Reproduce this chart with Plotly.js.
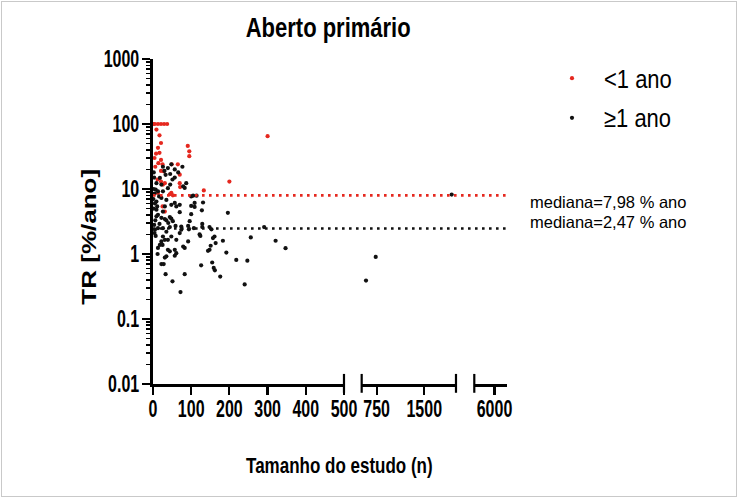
<!DOCTYPE html>
<html>
<head>
<meta charset="utf-8">
<script src="https://cdn.plot.ly/plotly-3.0.1.min.js"></script>
<style>
  body { margin: 0; background: #fff; }
  #wrap { position: relative; width: 740px; height: 502px; }
  #chart { width: 740px; height: 502px; }
  #frame { position: absolute; left: 1px; top: 1px; width: 734px; height: 494px;
           border: 1.5px solid #c9c9c9; pointer-events: none; }
  /* the reference text is drawn tall and narrow: stretch it vertically */
  #chart g.xtick, #chart g.x2tick, #chart g.x3tick, #chart g.ytick {
    transform-box: fill-box; transform-origin: center; transform: scaleY(1.5);
  }
  #chart g.g-gtitle { transform-box: fill-box; transform-origin: center; transform: scaleY(1.25); }
  #chart g.annotation[data-index="0"] { transform-box: fill-box; transform-origin: center; transform: scaleY(1.3); }
  #chart g.annotation[data-index="1"] { transform-box: fill-box; transform-origin: center; transform: scaleY(1.35); }
  #chart text.legendtext { transform-box: fill-box; transform-origin: center; transform: scaleY(1.15); }
</style>
</head>
<body>
<div id="wrap"><div id="chart"></div><div id="frame"></div></div>
<script>
// --- data ---
const seriesNames = ['<1 ano', '≥1 ano'];

const redX = [1, 5, 13, 21, 29, 37, 300, 9, 17, 21, 91, 95, 95, 8, 17, 13, 21, 14, 25, 21,
              12, 21, 49, 65, 70, 70, 71, 133, 200, 48, 44, 52, 25, 31, 6, 28, 26, 31, 4, 13];
const redY = [100, 100, 100, 100, 100, 100, 65, 82, 67, 51, 46, 38, 32, 35, 36, 43, 28, 25, 24, 19,
              14, 13, 24, 24, 16.6, 12.3, 10.7, 9.5, 13, 8.7, 8.3, 8.0, 5.4, 4.5, 22, 18.7, 11.7, 12.3, 30, 8.7];

const blackX = [26, 30, 48, 57, 77, 66, 87, 83, 105, 114, 39, 45, 33, 57, 18, 9, 22, 45, 51, 79,
                7, 13, 26, 39, 16, 22, 35, 57, 61, 48, 100, 109, 131, 9, 11, 9, 13, 31, 26, 70,
                100, 128, 44, 31, 100, 109, 196, 70, 22, 35, 48, 40, 52, 5, 13, 26, 44, 59, 35, 74,
                74, 70, 92, 94, 107, 122, 96, 129, 129, 148, 153, 291, 4, 124, 26, 22, 31, 18, 25, 13,
                39, 61, 57, 83, 79, 92, 39, 44, 61, 57, 35, 31, 148, 22, 28, 126, 33, 83, 51, 72,
                161, 157, 183, 256, 321, 347, 151, 164, 144, 192, 218, 247, 155, 159, 162, 176, 240, 48, 2, 3,
                2, 4, 1, 5, 2, 6, 3, 7, 12, 582, 735, 1932, 17, 9];
const blackY = [22, 19, 24, 20, 22, 18, 12.3, 10.4, 7.9, 7.9, 21, 17, 16.5, 15, 14.8, 12.3, 11.7, 11.7, 14, 11,
                9.8, 9.2, 9.2, 10.3, 7.7, 7.3, 6.8, 6.1, 5.4, 5.7, 7.7, 6.1, 6.2, 6.4, 5.4, 4.8, 4.0, 5.4, 4.5, 4.4,
                4.1, 4.7, 3.7, 3.45, 5.5, 5.3, 4.3, 5.7, 3.6, 3.3, 3.5, 3.0, 3.2, 2.36, 2.5, 2.5, 2.6, 2.7, 2.2, 2.65,
                2.36, 2.1, 2.7, 2.4, 2.5, 2.0, 3.2, 2.9, 2.6, 2.6, 2.4, 2.6, 2.1, 1.9, 1.86, 1.56, 1.65, 1.38, 1.38, 1.24,
                1.65, 1.65, 1.16, 1.24, 1.3, 1.56, 1.16, 1.1, 1.03, 0.94, 0.92, 0.88, 1.16, 0.70, 0.70, 0.67, 0.49, 0.49, 0.38, 0.26,
                1.86, 1.76, 1.6, 1.8, 1.6, 1.23, 1.34, 1.47, 1.12, 1.05, 0.81, 0.79, 0.74, 0.61, 0.56, 0.45, 0.34, 1.86, 18, 15,
                10, 8.5, 7, 6, 5, 3.3, 2.8, 1.9, 1.0, 0.39, 0.9, 8.2, 2.9, 3.8];

const medians = [7.98, 2.47];
const medianLabels = ['mediana=7,98 % ano', 'mediana=2,47 % ano'];

const seg1Ticks = [0, 100, 200, 300, 400, 500];
const seg2Ticks = [750, 1500];
const seg3Ticks = [6000];
const yTickVals = [0.01, 0.1, 1, 10, 100, 1000];
const yTickText = ['0.01', '0.1', '1', '10', '100', '1000'];

// --- broken x axis setup ---
const segRanges = [[0, 500], [514, 2000], [5000, 6620]];
const segDomains = [[0, 0.5395], [0.5895, 0.8559], [0.9076, 1]];
const segTicks = [seg1Ticks, seg2Ticks, seg3Ticks];
const axisIds = ['x', 'x2', 'x3'];

const RED = '#e5281f';
const BLACK = '#111111';
const sans = 'Liberation Sans, Arial, sans-serif';
const tickFont = { family: sans, size: 16, color: '#000', weight: 'bold' };

// minor log ticks 2..9 for every decade
const minorVals = [];
for (let d = -2; d < 3; d++) {
  for (let k = 2; k <= 9; k++) minorVals.push(k * Math.pow(10, d));
}

function pick(xs, ys, range) {
  const px = [], py = [];
  xs.forEach((x, i) => {
    if (x >= range[0] && x <= range[1]) { px.push(x); py.push(ys[i]); }
  });
  return { x: px, y: py };
}

const traces = [];

// median dotted lines run over the full width, breaks included (hidden axis x4)
medians.forEach((m, mi) => {
  traces.push({
    x: [0, 1], y: [m, m], xaxis: 'x4', yaxis: 'y',
    mode: 'lines', type: 'scatter', showlegend: false, hoverinfo: 'skip',
    line: { color: mi === 0 ? RED : BLACK, width: 2.6, dash: '2.6px,4.4px' },
    cliponaxis: false
  });
});

// scatter points split by segment (every segment gets a trace so its axis is drawn)
[[redX, redY, RED, 0], [blackX, blackY, BLACK, 1]].forEach(([xs, ys, col, idx]) => {
  segRanges.forEach((r, si) => {
    const p = pick(xs, ys, r);
    traces.push({
      x: p.x, y: p.y, xaxis: axisIds[si], yaxis: 'y',
      mode: 'markers', type: 'scatter', name: seriesNames[idx],
      legendgroup: 'g' + idx, showlegend: si === 0,
      marker: { color: col, size: 4.2 },
      cliponaxis: false
    });
  });
});

const layout = {
  width: 740, height: 502, autosize: false,
  paper_bgcolor: '#fff', plot_bgcolor: 'rgba(0,0,0,0)',
  margin: { l: 153, r: 233, t: 59, b: 118 },
  font: { family: sans, color: '#000' },
  title: {
    text: 'Aberto primário', x: 0.4435, xanchor: 'center', y: 0.946, yanchor: 'middle',
    font: { family: sans, size: 22, weight: 'bold', color: '#000' }
  },
  yaxis: {
    type: 'log', range: [-2, 3], anchor: 'x',
    showline: true, linewidth: 2.6, linecolor: '#000',
    ticks: 'outside', ticklen: 8, tickwidth: 2.2, tickcolor: '#000',
    tickmode: 'array', tickvals: yTickVals, ticktext: yTickText,
    tickfont: tickFont, showgrid: false, zeroline: false,
    minor: { tickmode: 'array', tickvals: minorVals, ticks: 'outside', ticklen: 4, tickwidth: 1.6, tickcolor: '#000', showgrid: false }
  },
  xaxis4: { domain: [0, 1], range: [0, 1], anchor: 'y', visible: false, fixedrange: true },
  showlegend: true,
  legend: {
    x: 1.0932, y: 1.005, xanchor: 'left', yanchor: 'top',
    font: { family: sans, size: 22, color: '#000' },
    itemwidth: 54, tracegroupgap: 8, bgcolor: 'rgba(0,0,0,0)'
  },
  shapes: [],
  annotations: [
    { text: 'TR [%/ano]', xref: 'paper', yref: 'paper', x: -0.18, y: 0.453,
      textangle: -90, showarrow: false, xanchor: 'center', yanchor: 'middle',
      font: { family: sans, size: 20, weight: 'bold', color: '#000' } },
    { text: 'Tamanho do estudo (n)', xref: 'paper', yref: 'paper', x: 0.528, y: -0.252,
      showarrow: false, xanchor: 'center', yanchor: 'middle',
      font: { family: sans, size: 17, weight: 'bold', color: '#000' } },
    { text: medianLabels[0], xref: 'paper', yref: 'paper', x: 1.059, y: 0.56,
      showarrow: false, xanchor: 'left', yanchor: 'middle',
      font: { family: sans, size: 16.5, color: '#000' } },
    { text: medianLabels[1], xref: 'paper', yref: 'paper', x: 1.059, y: 0.4985,
      showarrow: false, xanchor: 'left', yanchor: 'middle',
      font: { family: sans, size: 16.5, color: '#000' } }
  ]
};

axisIds.forEach((id, si) => {
  const key = si === 0 ? 'xaxis' : 'xaxis' + (si + 1);
  layout[key] = {
    domain: segDomains[si], range: segRanges[si], anchor: 'y',
    showline: true, linewidth: 2.6, linecolor: '#000',
    ticks: 'outside', ticklen: 8, tickwidth: 2.2, tickcolor: '#000',
    tickmode: 'array', tickvals: segTicks[si], tickfont: tickFont,
    showgrid: false, zeroline: false
  };
});

// end caps at the axis breaks
[['x domain', 1], ['x2 domain', 0], ['x2 domain', 1], ['x3 domain', 0]].forEach(([ref, pos]) => {
  layout.shapes.push({
    type: 'line', xref: ref, yref: 'paper', x0: pos, x1: pos, y0: -0.027, y1: 0.031,
    line: { color: '#000', width: 2.2 }
  });
});

Plotly.newPlot('chart', traces, layout, { displayModeBar: false, staticPlot: true });
</script>
</body>
</html>
